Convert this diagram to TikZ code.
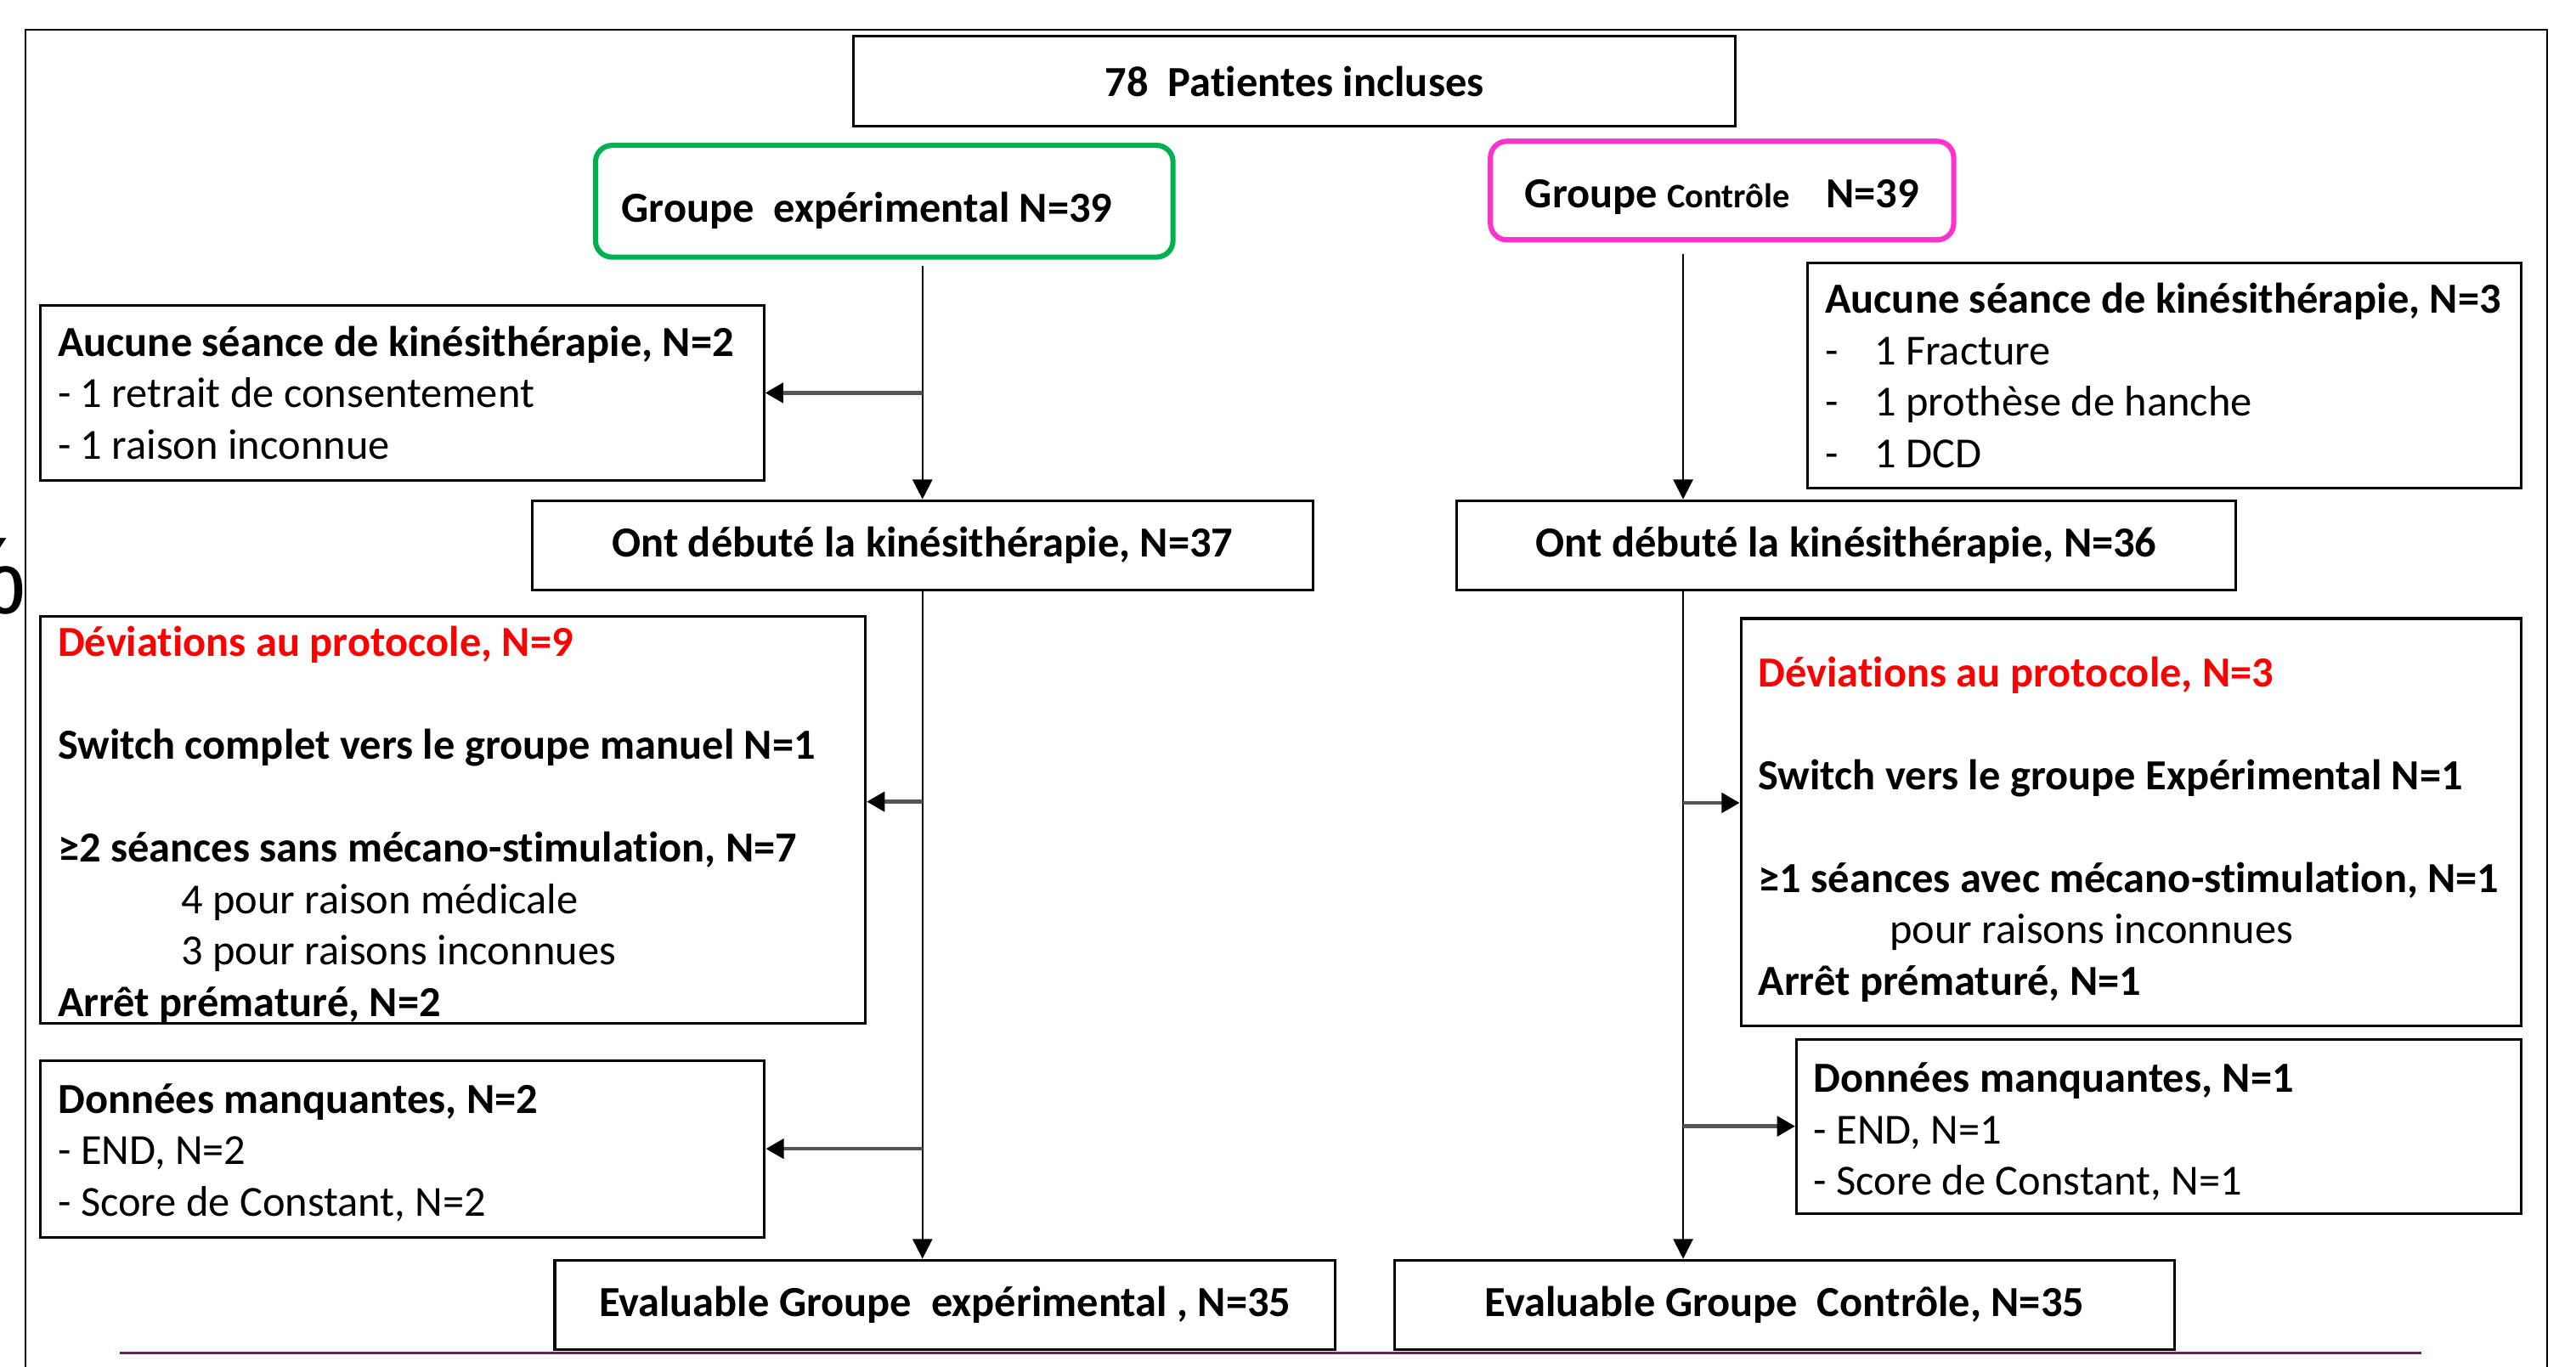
\documentclass[tikz,border=0pt]{standalone}
\usepackage{fontspec}
\setmainfont{Carlito}[Ligatures=NoCommon]
\newfontfamily\pctfont{Liberation Sans}
\usetikzlibrary{arrows.meta}
\definecolor{grpgreen}{HTML}{00B050}
\definecolor{grppink}{HTML}{FF33CC}
\definecolor{basered}{HTML}{FF0000}
\definecolor{baseline}{HTML}{7B1A56}
\definecolor{hgray}{HTML}{555555}
\newcommand\fmain{\fontsize{14.85}{17.8}\selectfont}
\newcommand\normsp{\spaceskip=0pt\xspaceskip=0pt\relax}
% first line with a fixed height above its baseline
\newcommand\firstln[2]{\rule{0pt}{#1}\smash{#2}}
\tikzset{
  box/.style={draw=black, line width=0.9pt, rectangle, inner xsep=0.21cm, inner ysep=0pt, font=\fmain\bfseries},
  tbox/.style={box, align=left},
  grp/.style={rectangle, rounded corners=0.2cm, line width=1.8pt, inner sep=0pt, text depth=0.12cm, font=\fmain\bfseries},
  frame/.style={draw=black, line width=0.5pt},
  varr/.style={draw=black, line width=0.6pt, -{Triangle[length=0.24cm,width=0.24cm]}},
  harr/.style={draw=hgray, line width=1.3pt, -{Triangle[length=0.22cm,width=0.24cm,color=black]}},
  bline/.style={draw=baseline, line width=1pt}
}
\begin{document}
\begin{tikzpicture}
\useasboundingbox (0,0) rectangle (31.36,-16.64);

% outer frame (open at the bottom)
\coordinate (fbl) at (0.31,-16.8);
\coordinate (ftl) at (0.31,-0.36);
\coordinate (ftr) at (31.01,-0.36);
\coordinate (fbr) at (31.01,-16.8);
\draw[frame] (fbl) -- (ftl) -- (ftr) -- (fbr);

% clipped glyph at the left edge
\node[inner sep=0pt, anchor=base east, font=\pctfont\fontsize{38}{40}\selectfont] (pct) at (0.335,-7.47) {\%};

% top
\node[box, minimum width=10.74cm, minimum height=1.10cm] (top) at (15.76,-0.99) {78\ \ Patientes incluses};

% groups
\node[grp, draw=grpgreen, text height=0.62cm, minimum width=7.03cm, minimum height=1.36cm] (green) at (10.765,-2.45)
  {Groupe\ \ expérimental N=39\hspace*{0.42cm}};
\node[grp, draw=grppink, text height=0.54cm, minimum width=5.64cm, minimum height=1.2cm] (pink) at (20.964,-2.32)
  {Groupe {\fontsize{11.9}{14}\selectfont Contrôle}\hspace{0.44cm}N=39};

% left column
\node[tbox, text width=8.386cm, minimum height=2.126cm] (AucL) at (4.897,-4.783)
  {\normsp Aucune séance de kinésithérapie, N=2\\
   \textmd{- 1 retrait de consentement}\\
   \textmd{- 1 raison inconnue}};
\node[box, minimum width=9.5cm, minimum height=1.092cm] (OntL) at (11.23,-6.64) {Ont débuté la kinésithérapie, N=37};
\node[tbox, text width=9.622cm, minimum height=4.96cm] (DevL) at (5.515,-9.98)
  {\normsp\firstln{0.49cm}{\textcolor{basered}{Déviations au protocole, N=9}}\\[0.626cm]
   Switch complet vers le groupe manuel N=1\\[0.626cm]
   \mbox{≥2 séances sans mécano-stimulation, N=7}\\
   \hspace*{1.5cm}\textmd{4 pour raison médicale}\\
   \hspace*{1.5cm}\textmd{3 pour raisons inconnues}\\
   Arrêt prématuré, N=2};
\node[tbox, text width=8.392cm, minimum height=2.15cm] (DonL) at (4.902,-13.985)
  {\normsp\firstln{0.45cm}{Données manquantes, N=2}\\
   \textmd{- END, N=2}\\
   \textmd{- Score de Constant, N=2}};
\node[box, minimum width=9.498cm, minimum height=1.09cm] (EvL) at (11.503,-15.885) {Evaluable Groupe\ \ expérimental , N=35};

% right column
\node[tbox, text width=8.262cm, minimum height=2.74cm] (AucR) at (26.349,-4.57)
  {\normsp\mbox{Aucune séance de kinésithérapie, N=3}\\
   \textmd{\makebox[0.6cm][l]{-}1 Fracture}\\
   \textmd{\makebox[0.6cm][l]{-}1 prothèse de hanche}\\
   \textmd{\makebox[0.6cm][l]{-}1 DCD}};
\node[box, minimum width=9.49cm, minimum height=1.094cm] (OntR) at (22.475,-6.641) {Ont débuté la kinésithérapie, N=36};
\node[tbox, text width=9.078cm, minimum height=4.964cm] (DevR) at (25.943,-10.012)
  {\normsp\firstln{0.53cm}{\textcolor{basered}{Déviations au protocole, N=3}}\\[0.626cm]
   Switch vers le groupe Expérimental N=1\\[0.626cm]
   \mbox{≥1 séances avec mécano-stimulation, N=1}\\
   \hspace*{1.6cm}\textmd{pour raisons inconnues}\\
   Arrêt prématuré, N=1};
\node[tbox, text width=8.402cm, minimum height=2.122cm] (DonR) at (26.281,-13.711)
  {\normsp\firstln{0.49cm}{Données manquantes, N=1}\\
   \textmd{- END, N=1}\\
   \textmd{- Score de Constant, N=1}};
\node[box, minimum width=9.49cm, minimum height=1.09cm] (EvR) at (21.725,-15.885) {Evaluable Groupe\ \ Contrôle, N=35};

% left connectors
\draw[varr] ([yshift=-0.08cm]green.south -| OntL.north) -- (OntL.north);
\draw[harr] (AucL.east -| OntL.north) -- (AucL.east);
\draw[varr] (OntL.south) -- (OntL.south |- EvL.north);
\coordinate (dl) at ([yshift=0.22cm]DevL.east);
\draw[harr] (dl -| OntL.south) -- (dl);
\draw[harr] (DonL.east -| OntL.south) -- (DonL.east);

% right connectors
\draw[varr] ([xshift=-0.474cm,yshift=-0.14cm]pink.south) -- ([xshift=-0.474cm]pink.south |- OntR.north);
\coordinate (rline) at ([xshift=-1.985cm]OntR.south);
\draw[varr] (rline) -- (rline |- EvR.north);
\coordinate (dr) at ([yshift=0.238cm]DevR.west);
\draw[harr] (dr -| rline) -- (dr);
\draw[harr] (DonR.west -| rline) -- (DonR.west);

% bottom rule
\coordinate (bl0) at (1.46,-16.472);
\coordinate (bl1) at (29.48,-16.472);
\draw[bline] (bl0) -- (bl1);
\end{tikzpicture}
\end{document}
